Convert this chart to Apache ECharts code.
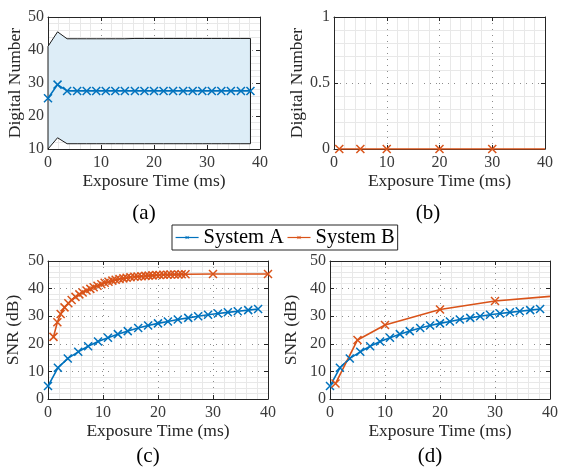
<!DOCTYPE html>
<html>
<head>
<meta charset="utf-8">
<script src="https://cdn.jsdelivr.net/npm/echarts@6/dist/echarts.min.js"></script>
<style>
html,body{margin:0;padding:0;background:#fff;}
#c{width:561px;height:468px;}
</style>
</head>
<body>
<div id="c"></div>
<script>
// ---- data ----
const xA = [0,1.8,3.6,5.5,7.3,9.1,10.9,12.7,14.5,16.4,18.2,20,21.8,23.6,25.5,27.3,29.1,30.9,32.7,34.5,36.4,38.2];
const dnA = [25.4,29.5,27.6,27.6,27.6,27.6,27.6,27.6,27.6,27.6,27.6,27.6,27.6,27.6,27.6,27.6,27.6,27.6,27.6,27.6,27.6,27.6];
const bandUpper = [41.1,45.5,43.4,43.4,43.4,43.4,43.4,43.4,43.4,43.5,43.5,43.5,43.5,43.5,43.5,43.5,43.5,43.5,43.5,43.5,43.5,43.5];
const bandLower = [10,13.4,11.6,11.6,11.6,11.6,11.6,11.6,11.6,11.6,11.6,11.6,11.6,11.6,11.6,11.6,11.6,11.6,11.6,11.6,11.6,11.6];
const xB = [1,5,10,20,30,40];
const dnB = [0,0,0,0,0,0];
const snrA = [4.7,11.3,14.7,17.1,19.1,20.8,22.2,23.5,24.6,25.7,26.6,27.4,28.1,28.8,29.4,30.0,30.5,31.0,31.4,31.8,32.2,32.6];
const xBc = [1.0,1.7,2.3,3.0,3.7,4.3,5.0,5.7,6.3,7.0,7.7,8.3,9.0,9.7,10.3,11.0,11.7,12.3,13.0,13.7,14.3,15.0,15.7,16.3,17.0,17.7,18.3,19.0,19.7,20.3,21.0,21.7,22.3,23.0,23.7,24.3,25.0,30,40];
const snrBc = [22.5,27.8,30.8,33.2,34.7,35.9,37.0,37.9,38.6,39.3,39.9,40.5,41.0,41.6,42.1,42.5,42.9,43.2,43.5,43.7,43.9,44.1,44.3,44.4,44.5,44.6,44.7,44.8,44.9,44.9,45.0,45.0,45.1,45.1,45.1,45.2,45.2,45.3,45.3];
const snrBd = [5.6,21.4,26.8,32.4,35.5,37.2];
const xTicks = {min:0, max:40, interval:10};
const yTicksA = {min:10, max:50, interval:10};
const yTicksB = {min:0, max:1, interval:0.5};
const yTicksSNR = {min:0, max:50, interval:10};
const xTitle = 'Exposure Time (ms)';
const yTitleDN = 'Digital Number';
const yTitleSNR = 'SNR (dB)';
const panelLabels = ['(a)','(b)','(c)','(d)'];

// ---- styling ----
const BLUE = '#0072BD', RED = '#D95319', AX = '#262626';
const FONT = '"Liberation Serif", "Times New Roman", serif';
const XSYM = 'path://M0,0L10,10M10,0L0,10';

const grids = [
  {left:48, top:17, width:212, height:132},
  {left:334, top:17, width:211, height:132},
  {left:48, top:261, width:220, height:138},
  {left:330, top:261, width:220, height:138}
];
const yTicks = [yTicksA, yTicksB, yTicksSNR, yTicksSNR];
const yTitles = [yTitleDN, yTitleDN, yTitleSNR, yTitleSNR];
const yGaps = [21, 25, 26, 30];
const yMinor = [5, 5, 5, 5];

const xAxes = [], yAxes = [];
grids.forEach((g, i) => {
  const common = {
    axisLine:{show:true, onZero:false, lineStyle:{color:AX, width:1}},
    axisTick:{show:true, inside:true, length:4, lineStyle:{color:AX}},
  };
  xAxes.push(Object.assign({
    type:'value', gridIndex:i, position:'bottom',
    min:xTicks.min, max:xTicks.max, interval:xTicks.interval,
    name:xTitle, nameLocation:'middle', nameGap:23,
    nameTextStyle:{fontFamily:FONT, fontSize:17.5, color:AX},
    axisLabel:{fontFamily:FONT, fontSize:16, color:'#3a3a3a', margin:6},
    splitLine:{show:true, lineStyle:{color:'#8c8c8c', type:[1,5], width:1}},
    minorTick:{show:false, splitNumber:5},
    minorSplitLine:{show:true, lineStyle:{color:'#e8e8e8', width:1}}
  }, common));
  xAxes.push(Object.assign({
    type:'value', gridIndex:i, position:'top',
    min:xTicks.min, max:xTicks.max, interval:xTicks.interval,
    axisLabel:{show:false}, splitLine:{show:false}
  }, common));
  const yt = yTicks[i];
  yAxes.push(Object.assign({
    type:'value', gridIndex:i, position:'left',
    min:yt.min, max:yt.max, interval:yt.interval,
    name:yTitles[i], nameLocation:'middle', nameGap:yGaps[i],
    nameTextStyle:{fontFamily:FONT, fontSize:17.5, color:AX},
    axisLabel:{fontFamily:FONT, fontSize:16, color:'#3a3a3a', margin:4},
    splitLine:{show:true, lineStyle:{color:'#8c8c8c', type:[1,5], width:1}},
    minorTick:{show:false, splitNumber:yMinor[i]},
    minorSplitLine:{show:true, lineStyle:{color:'#e8e8e8', width:1}}
  }, common));
  yAxes.push(Object.assign({
    type:'value', gridIndex:i, position:'right',
    min:yt.min, max:yt.max, interval:yt.interval,
    axisLabel:{show:false}, splitLine:{show:false}
  }, common));
});

function lineSeries(name, color, p, xs, ys, hideLastSymbol) {
  return {
    type:'line', name:name, xAxisIndex:2*p, yAxisIndex:2*p,
    data: xs.map((x, k) => {
      const d = {value:[x, ys[k]]};
      if (hideLastSymbol && k === xs.length - 1) d.symbolSize = 0;
      return d;
    }),
    symbol:XSYM, symbolSize:8, showAllSymbol:true,
    lineStyle:{color:color, width:1.6},
    itemStyle:{color:color, borderColor:color, borderWidth:1.5},
    emphasis:{disabled:true}, animation:false, z:3, clip:true
  };
}

const series = [
  {
    type:'custom', xAxisIndex:0, yAxisIndex:0, coordinateSystem:'cartesian2d',
    data:[[0, 0]], z:1, silent:true, animation:false,
    renderItem: function(params, api) {
      const pts = [];
      for (let k = 0; k < xA.length; k++) pts.push(api.coord([xA[k], bandUpper[k]]));
      for (let k = xA.length - 1; k >= 0; k--) pts.push(api.coord([xA[k], bandLower[k]]));
      return {type:'polygon', shape:{points:pts}, style:{fill:'#ddedf7', stroke:'#1a1a1a', lineWidth:1}};
    }
  },
  lineSeries('System A', BLUE, 0, xA, dnA, false),
  lineSeries('System B', RED, 1, xB, dnB, true),
  lineSeries('System A', BLUE, 2, xA, snrA, false),
  lineSeries('System B', RED, 2, xBc, snrBc, false),
  lineSeries('System A', BLUE, 3, xA, snrA, false),
  lineSeries('System B', RED, 3, xB, snrBd, true)
];

const labelPos = [[144,213],[428,213],[148,456],[430,456]];
const graphics = panelLabels.map((t, i) => ({
  type:'text', x:labelPos[i][0], y:labelPos[i][1],
  style:{text:t, font:'21px ' + FONT, fill:'#000', align:'center', verticalAlign:'middle'}
}));

const chart = echarts.init(document.getElementById('c'), null, {renderer:'canvas'});
chart.setOption({
  animation:false,
  grid: grids,
  xAxis: xAxes,
  yAxis: yAxes,
  legend: {
    data:['System A','System B'], left:172, top:225,
    padding:[2,3,2,3], itemGap:3, itemWidth:23, itemHeight:4,
    borderColor:AX, borderWidth:1, backgroundColor:'#fff',
    itemStyle:{borderWidth:1},
    lineStyle:{width:1.2},
    textStyle:{fontFamily:FONT, fontSize:20.5, color:'#000'},
    selectedMode:false
  },
  series: series,
  graphic: graphics
});
</script>
</body>
</html>
